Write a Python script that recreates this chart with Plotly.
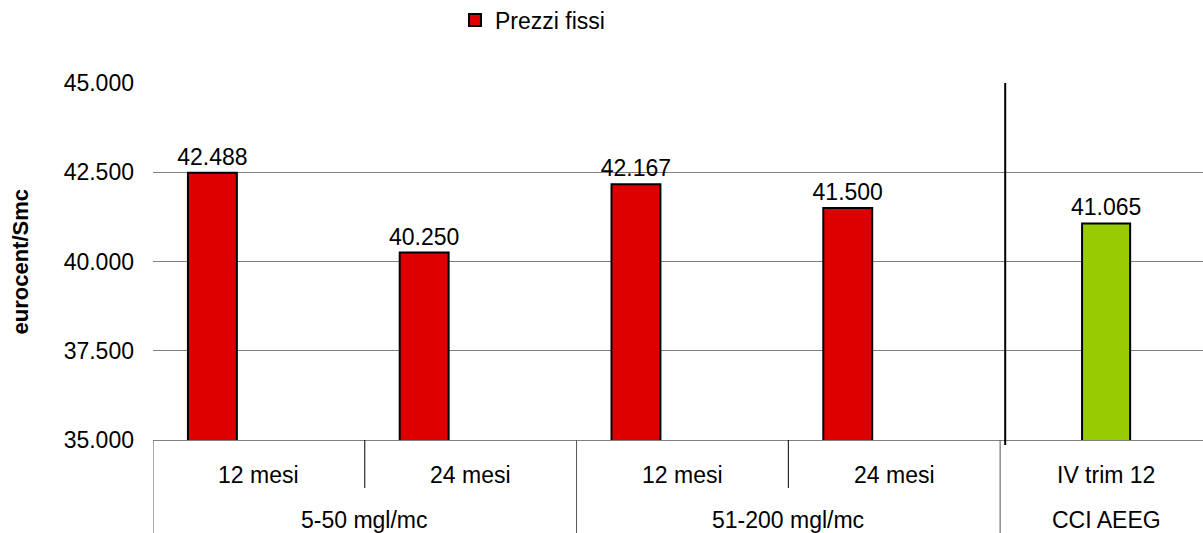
import plotly.graph_objects as go

# ---- data ----
sub_labels = ["12 mesi", "24 mesi", "12 mesi", "24 mesi", "IV trim 12"]
group_labels = ["5-50 mgl/mc", "51-200 mgl/mc", "CCI AEEG"]
group_spans = [(0, 1), (2, 3), (4, 4)]
fixed_values = [42.488, 40.250, 42.167, 41.500]
cci_values = [41.065]
y_ticks = [35.0, 37.5, 40.0, 42.5, 45.0]

FONT = "Liberation Sans, Arial, sans-serif"
FS = 23
RED = "#DE0000"
GREEN = "#99CC00"

idx = list(range(len(sub_labels)))
fixed_x = idx[:len(fixed_values)]
cci_x = idx[len(fixed_values):]

fig = go.Figure()
fig.add_trace(go.Bar(
    x=fixed_x, y=fixed_values, name="Prezzi fissi",
    width=0.231, offset=-0.335,
    marker=dict(color=RED, line=dict(color="black", width=2)),
    texttemplate="%{y:.3f}", textposition="outside", constraintext="none",
    textfont=dict(family=FONT, size=FS, color="black"),
    cliponaxis=False, hoverinfo="skip",
))
fig.add_trace(go.Bar(
    x=cci_x, y=cci_values, name="CCI AEEG", showlegend=False,
    width=0.227, offset=-0.113,
    marker=dict(color=GREEN, line=dict(color="black", width=2)),
    texttemplate="%{y:.3f}", textposition="outside", constraintext="none",
    textfont=dict(family=FONT, size=FS, color="black"),
    cliponaxis=False, hoverinfo="skip",
))

annotations = []
shapes = []
plot_h = 533 - 83 - 93
sub_y = -35 / plot_h
grp_y = -80 / plot_h
for i, lab in enumerate(sub_labels):
    annotations.append(dict(x=i, y=sub_y, xref="x", yref="paper", text=lab,
                            showarrow=False, yanchor="middle",
                            font=dict(family=FONT, size=FS, color="black")))
for lab, (a, b) in zip(group_labels, group_spans):
    annotations.append(dict(x=(a + b) / 2, y=grp_y, xref="x", yref="paper", text=lab,
                            showarrow=False, yanchor="middle",
                            font=dict(family=FONT, size=FS, color="black")))
    shapes.append(dict(type="line", xref="x", yref="paper", x0=a - 0.5, x1=a - 0.5,
                       y0=0, y1=-93 / plot_h, line=dict(color="#555555", width=1)))
    for k in range(a, b):
        shapes.append(dict(type="line", xref="x", yref="paper", x0=k + 0.5, x1=k + 0.5,
                           y0=0, y1=-48 / plot_h, line=dict(color="black", width=1)))
# separator before CCI series
shapes.append(dict(type="line", xref="x", yref="paper", x0=3.524, x1=3.524,
                   y0=-5 / plot_h, y1=1, line=dict(color="black", width=2)))

annotations.append(dict(x=-(153 - 20) / 1050, y=0.5, xref="paper", yref="paper",
                        text="<b>eurocent/Smc</b>", textangle=-90, showarrow=False,
                        xanchor="center", yanchor="middle",
                        font=dict(family=FONT, size=22, color="black")))

fig.update_layout(
    width=1203, height=533,
    margin=dict(l=153, r=0, t=83, b=93, autoexpand=False),
    paper_bgcolor="white", plot_bgcolor="white",
    barmode="overlay",
    showlegend=True,
    hovermode=False,
    legend=dict(orientation="h", x=(455 - 153) / 1050, xanchor="left",
                y=1 + (83 - 20) / plot_h, yanchor="middle",
                font=dict(family=FONT, size=FS, color="black")),
    xaxis=dict(range=[-0.5, 4.458], showticklabels=False, showgrid=False,
               zeroline=False, showline=True, linecolor="#808080", linewidth=1,
               fixedrange=True),
    yaxis=dict(range=[35, 45], tickvals=y_ticks, tickformat=".3f",
               showgrid=True, gridcolor="#808080", gridwidth=1,
               zeroline=False, showline=False, ticks="", ticklabelstandoff=18,
               tickfont=dict(family=FONT, size=FS, color="black"),
               fixedrange=True),
    annotations=annotations,
    shapes=shapes,
)

fig.write_html("out.html", config={"displayModeBar": False, "staticPlot": True},
               post_script="document.body.style.margin='0px';document.body.style.padding='0px';")
